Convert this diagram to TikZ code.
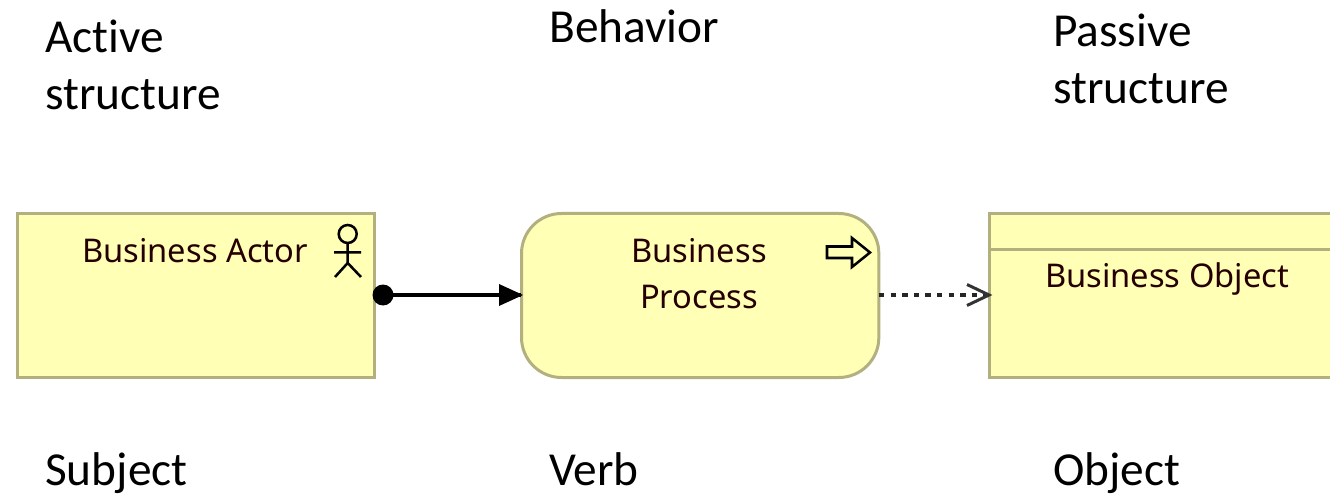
\documentclass[tikz,border=0pt]{standalone}
\usepackage{fontspec}
\setmainfont{Carlito}[Ligatures=NoCommon]
\newfontfamily\boxfont{Noto Sans}
\usetikzlibrary{arrows.meta}
\definecolor{boxfill}{HTML}{FFFFB5}
\definecolor{boxline}{HTML}{B3B07F}
\tikzset{
  x=0.75pt,y=-0.75pt,
  lbl/.style={anchor=base west,inner sep=0pt,font=\fontsize{35.5}{36}\selectfont},
  boxtxt/.style={anchor=base,inner sep=0pt,align=center,font=\boxfont\fontsize{24.5}{30}\selectfont,text=black!85!red},
  elem/.style={draw=boxline,fill=boxfill,line width=2.25pt,minimum width=268pt,minimum height=123pt,inner sep=0pt,anchor=north west},
  icon/.style={draw=black,line width=1.9pt,fill=none},
}
\begin{document}
\begin{tikzpicture}
\useasboundingbox (0,0) rectangle (1330,495);
% labels
\node[lbl] (l1) at (45,53) {Active};
\node[lbl] (l2) at (45,110) {structure};
\node[lbl] (l3) at (549,43) {Behavior};
\node[lbl] (l4) at (1053,47) {Passive};
\node[lbl] (l5) at (1053,104) {structure};
\node[lbl] (l6) at (45,485) {Subject};
\node[lbl] (l7) at (549,485) {Verb};
\node[lbl] (l8) at (1053,485) {Object};
% elements
\node[elem] (actor) at (16,212) {};
\node[elem,rounded corners=30pt] (process) at (520,212) {};
\begin{scope}
\clip (980,200) rectangle (1330,390);
\node[elem,minimum width=280pt] (object) at (988,212) {};
\coordinate (hl) at (988,249.5);
\coordinate (hr) at (1360,249.5);
\draw[boxline,line width=2.25pt] (hl) -- (hr);
\end{scope}
% element texts
\node[boxtxt] (t1) at (195,262.5) {Business Actor};
\node[boxtxt] (t2) at (699,262.5) {Business};
\node[boxtxt] (t3) at (699,308) {Process};
\node[boxtxt] (t4) at (1167,287) {Business Object};
% actor icon
\draw[icon] (347.7,234) circle (9);
\draw[icon] (347.7,243) -- (347.7,263) (334,252.3) -- (361,252.3)
  (335,277) -- (347.7,263) -- (361,277);
% process icon
\draw[icon,line join=miter] (827,246.5) -- (852,246.5) -- (852,238) -- (870,252.5) -- (852,267) -- (852,258) -- (827,258) -- cycle;
% connectors
\coordinate (aout) at (375,295);
\coordinate (pin) at (521,295);
\coordinate (pout) at (879,295);
\coordinate (oin) at (989,295);
\draw[black,line width=3pt] (aout) ++(8,0) -- (pin);
\fill[black] (383,295) circle (10.5);
\fill[black] (499,284) -- (523,295) -- (499,306) -- cycle;
\draw[black!85,line width=3pt,dash pattern=on 4pt off 4.7pt] (pout) -- (oin);
\draw[black!80,line width=2.25pt] (967,284.5) -- (989,295) -- (967,305.5);
\end{tikzpicture}
\end{document}
